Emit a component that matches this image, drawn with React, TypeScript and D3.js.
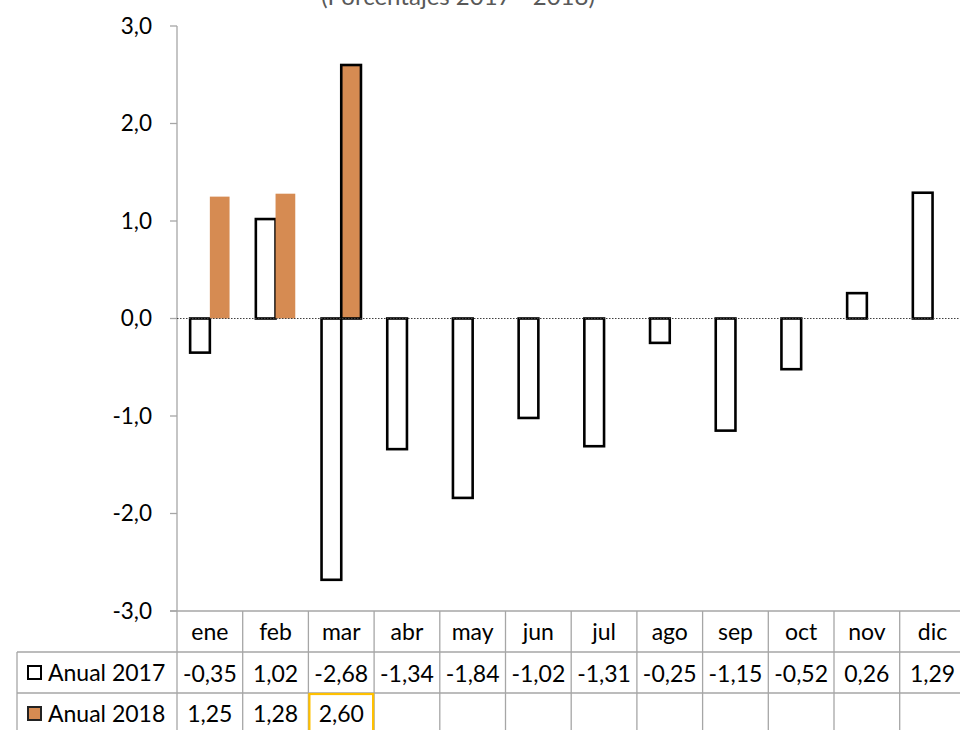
import React from "react";
import * as d3 from "d3";

const months = ["ene", "feb", "mar", "abr", "may", "jun", "jul", "ago", "sep", "oct", "nov", "dic"];
const values2017 = [-0.35, 1.02, -2.68, -1.34, -1.84, -1.02, -1.31, -0.25, -1.15, -0.52, 0.26, 1.29];
const values2018: (number | null)[] = [1.25, 1.28, 2.6, null, null, null, null, null, null, null, null, null];
const labels2017 = ["-0,35", "1,02", "-2,68", "-1,34", "-1,84", "-1,02", "-1,31", "-0,25", "-1,15", "-0,52", "0,26", "1,29"];
const labels2018 = ["1,25", "1,28", "2,60", "", "", "", "", "", "", "", "", ""];
const yTicks = [3, 2, 1, 0, -1, -2, -3];
const seriesNames = ["Anual 2017", "Anual 2018"];
const titleText = "(Porcentajes 2017 - 2018)";
const selectedIndex2018 = 2;

const W = 960;
const H = 730;
const FONT = "Lato, 'Open Sans', sans-serif";
const ORANGE = "#D68B52";
const GRID = "#a6a6a6";

export default function App() {
  const x0 = 177;
  const colW = 65.7;
  const x = d3.scaleBand<string>().domain(months).range([x0, x0 + colW * months.length]).paddingInner(0).paddingOuter(0);
  const y = d3.scaleLinear().domain([-3, 3]).range([611, 26]);
  const bw = x.bandwidth() * 0.3;
  const fmt = (v: number) => d3.format(".1f")(v).replace(".", ",").replace("−", "-");

  const tableTop = y(-3);
  const rowH = 41;
  const r1 = tableTop + rowH;
  const r2 = r1 + rowH;
  const xEnd = x0 + colW * months.length;
  const legendLeft = 17;
  const fs = 23;

  return (
    <svg width={W} height={H} style={{ position: "fixed", left: 0, top: 0, background: "#fff" }} fontFamily={FONT}>
      <rect x={0} y={0} width={W} height={H} fill="#fff" />
      {/* title (cut at top, as in the reference) */}
      <text x={458} y={5} textAnchor="middle" fontSize={24} fill="#595959">{titleText}</text>

      {/* y axis */}
      <line x1={x0} x2={x0} y1={y(3)} y2={H} stroke={GRID} strokeWidth={1.3} />
      {yTicks.map((t) => (
        <g key={t}>
          <line x1={170} x2={x0} y1={y(t)} y2={y(t)} stroke={GRID} strokeWidth={1.3} />
          <text x={152} y={y(t)} dy="0.35em" textAnchor="end" fontSize={22.5} fill="#000">{fmt(t)}</text>
        </g>
      ))}

      {/* bars 2017 */}
      {values2017.map((v, i) => {
        const cx = (x(months[i]) as number) + x.bandwidth() / 2;
        const y1 = y(Math.max(0, v));
        const y2 = y(Math.min(0, v));
        return <rect key={"a" + i} x={cx - bw} y={y1} width={bw} height={y2 - y1} fill="#fff" stroke="#000" strokeWidth={2.6} />;
      })}
      {/* bars 2018 */}
      {values2018.map((v, i) => {
        if (v === null) return null;
        const cx = (x(months[i]) as number) + x.bandwidth() / 2;
        const y1 = y(Math.max(0, v));
        const y2 = y(Math.min(0, v));
        return (
          <rect key={"b" + i} x={cx} y={y1} width={bw} height={y2 - y1} fill={ORANGE}
            stroke={i === selectedIndex2018 ? "#000" : "none"} strokeWidth={2.6} />
        );
      })}

      {/* zero line */}
      <line x1={x0} x2={xEnd} y1={y(0)} y2={y(0)} stroke="#404040" strokeWidth={1} strokeDasharray="1.5,1.5" />

      {/* data table */}
      <line x1={170} x2={xEnd} y1={tableTop} y2={tableTop} stroke={GRID} strokeWidth={1.3} />
      <line x1={legendLeft} x2={xEnd} y1={r1} y2={r1} stroke={GRID} strokeWidth={1.3} />
      <line x1={legendLeft} x2={xEnd} y1={r2} y2={r2} stroke={GRID} strokeWidth={1.3} />
      <line x1={legendLeft} x2={legendLeft} y1={r1} y2={H} stroke={GRID} strokeWidth={1.3} />
      {months.map((m, i) => (
        <line key={"v" + i} x1={(x(m) as number) + colW} x2={(x(m) as number) + colW} y1={tableTop} y2={H} stroke={GRID} strokeWidth={1.3} />
      ))}
      {months.map((m) => (
        <text key={"m" + m} x={(x(m) as number) + colW / 2} y={640} textAnchor="middle" fontSize={fs} fill="#000">{m}</text>
      ))}
      {labels2017.map((l, i) => (
        <text key={"l7" + i} x={(x(months[i]) as number) + colW / 2} y={682} textAnchor="middle" fontSize={fs} fill="#000">{l}</text>
      ))}
      {labels2018.map((l, i) => (
        <text key={"l8" + i} x={(x(months[i]) as number) + colW / 2} y={722} textAnchor="middle" fontSize={fs} fill="#000">{l}</text>
      ))}
      {/* selected cell */}
      <rect x={(x(months[selectedIndex2018]) as number) + 1} y={r2 + 1} width={colW - 2} height={H - r2 + 2} fill="none" stroke="#FFC000" strokeWidth={2.2} />

      {/* legend keys */}
      <rect x={28} y={666} width={13} height={13} fill="#fff" stroke="#000" strokeWidth={2} />
      <text x={48} y={681} fontSize={fs} fill="#000">{seriesNames[0]}</text>
      <rect x={28} y={707} width={13} height={13} fill={ORANGE} stroke="#222" strokeWidth={2} />
      <text x={48} y={722} fontSize={fs} fill="#000">{seriesNames[1]}</text>
    </svg>
  );
}
